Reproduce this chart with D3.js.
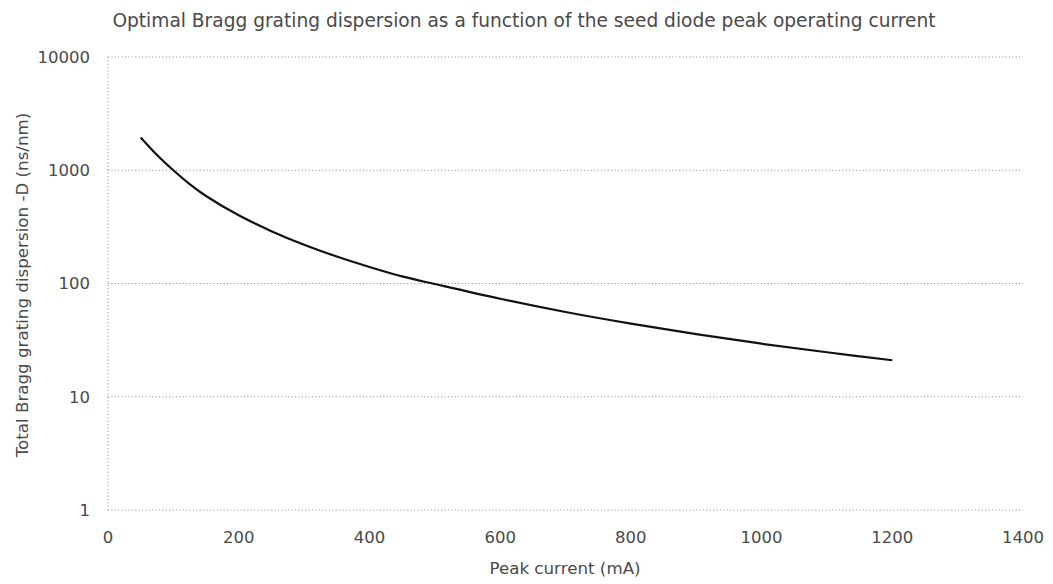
<!DOCTYPE html>
<html>
<head>
<meta charset="utf-8">
<script src="https://cdn.jsdelivr.net/npm/d3@7"></script>
<style>
  html, body { margin: 0; padding: 0; background: #fff; }
  svg { display: block; }
  text { font-family: "DejaVu Sans", sans-serif; fill: #4a4a4a; }
</style>
</head>
<body>
<svg id="chart" width="1053" height="584"></svg>
<script>
const chartTitle = "Optimal Bragg grating dispersion as a function of the seed diode peak operating current";
const xTitle = "Peak current (mA)";
const yTitle = "Total Bragg grating dispersion -D (ns/nm)";

const peakCurrent = [50, 75, 100, 125, 150, 200, 250, 300, 350, 400, 450, 500, 600, 700, 800, 900, 1000, 1100, 1200];
const dispersion = [1950, 1365, 1000, 754, 592, 400, 290, 220, 173, 140, 115.5, 98.9, 73.3, 56.0, 44.2, 35.7, 29.4, 24.7, 21.0];

const xTicks = [0, 200, 400, 600, 800, 1000, 1200, 1400];
const yTicks = [1, 10, 100, 1000, 10000];

const svg = d3.select("#chart");
const margin = { left: 108, right: 1023, top: 57, bottom: 510 };

const x = d3.scaleLinear().domain([0, 1400]).range([margin.left, margin.right]);
const y = d3.scaleLog().domain([1, 10000]).range([margin.bottom, margin.top]);

// horizontal gridlines
svg.append("g").selectAll("line").data(yTicks).join("line")
  .attr("x1", margin.left).attr("x2", margin.right)
  .attr("y1", d => y(d)).attr("y2", d => y(d))
  .attr("stroke", "#8a8a8a").attr("stroke-width", 1)
  .attr("stroke-dasharray", "1,2.4");

// left axis line
svg.append("line")
  .attr("x1", margin.left).attr("x2", margin.left)
  .attr("y1", margin.top).attr("y2", margin.bottom)
  .attr("stroke", "#8a8a8a").attr("stroke-width", 1)
  .attr("stroke-dasharray", "1,2.4");

// y tick labels
svg.append("g").selectAll("text").data(yTicks).join("text")
  .attr("x", margin.left - 18).attr("y", d => y(d))
  .attr("dy", "0.35em").attr("text-anchor", "end")
  .attr("font-size", 16.5)
  .text(d => d);

// x tick labels
svg.append("g").selectAll("text").data(xTicks).join("text")
  .attr("x", d => x(d)).attr("y", 537)
  .attr("dy", "0.35em").attr("text-anchor", "middle")
  .attr("font-size", 16.5)
  .text(d => d);

// title
svg.append("text")
  .attr("x", 524).attr("y", 20).attr("dy", "0.35em")
  .attr("text-anchor", "middle").attr("font-size", 18.6)
  .text(chartTitle);

// axis titles
svg.append("text")
  .attr("x", 565).attr("y", 568).attr("dy", "0.35em")
  .attr("text-anchor", "middle").attr("font-size", 16.7)
  .text(xTitle);

svg.append("text")
  .attr("transform", "translate(22,285) rotate(-90)")
  .attr("dy", "0.35em")
  .attr("text-anchor", "middle").attr("font-size", 16.7)
  .text(yTitle);

// curve
const data = peakCurrent.map((c, i) => ({ c, d: dispersion[i] }));
const line = d3.line().x(p => x(p.c)).y(p => y(p.d)).curve(d3.curveCatmullRom.alpha(0.5));
svg.append("path").datum(data)
  .attr("d", line)
  .attr("fill", "none").attr("stroke", "#111").attr("stroke-width", 2.2);
</script>
</body>
</html>
